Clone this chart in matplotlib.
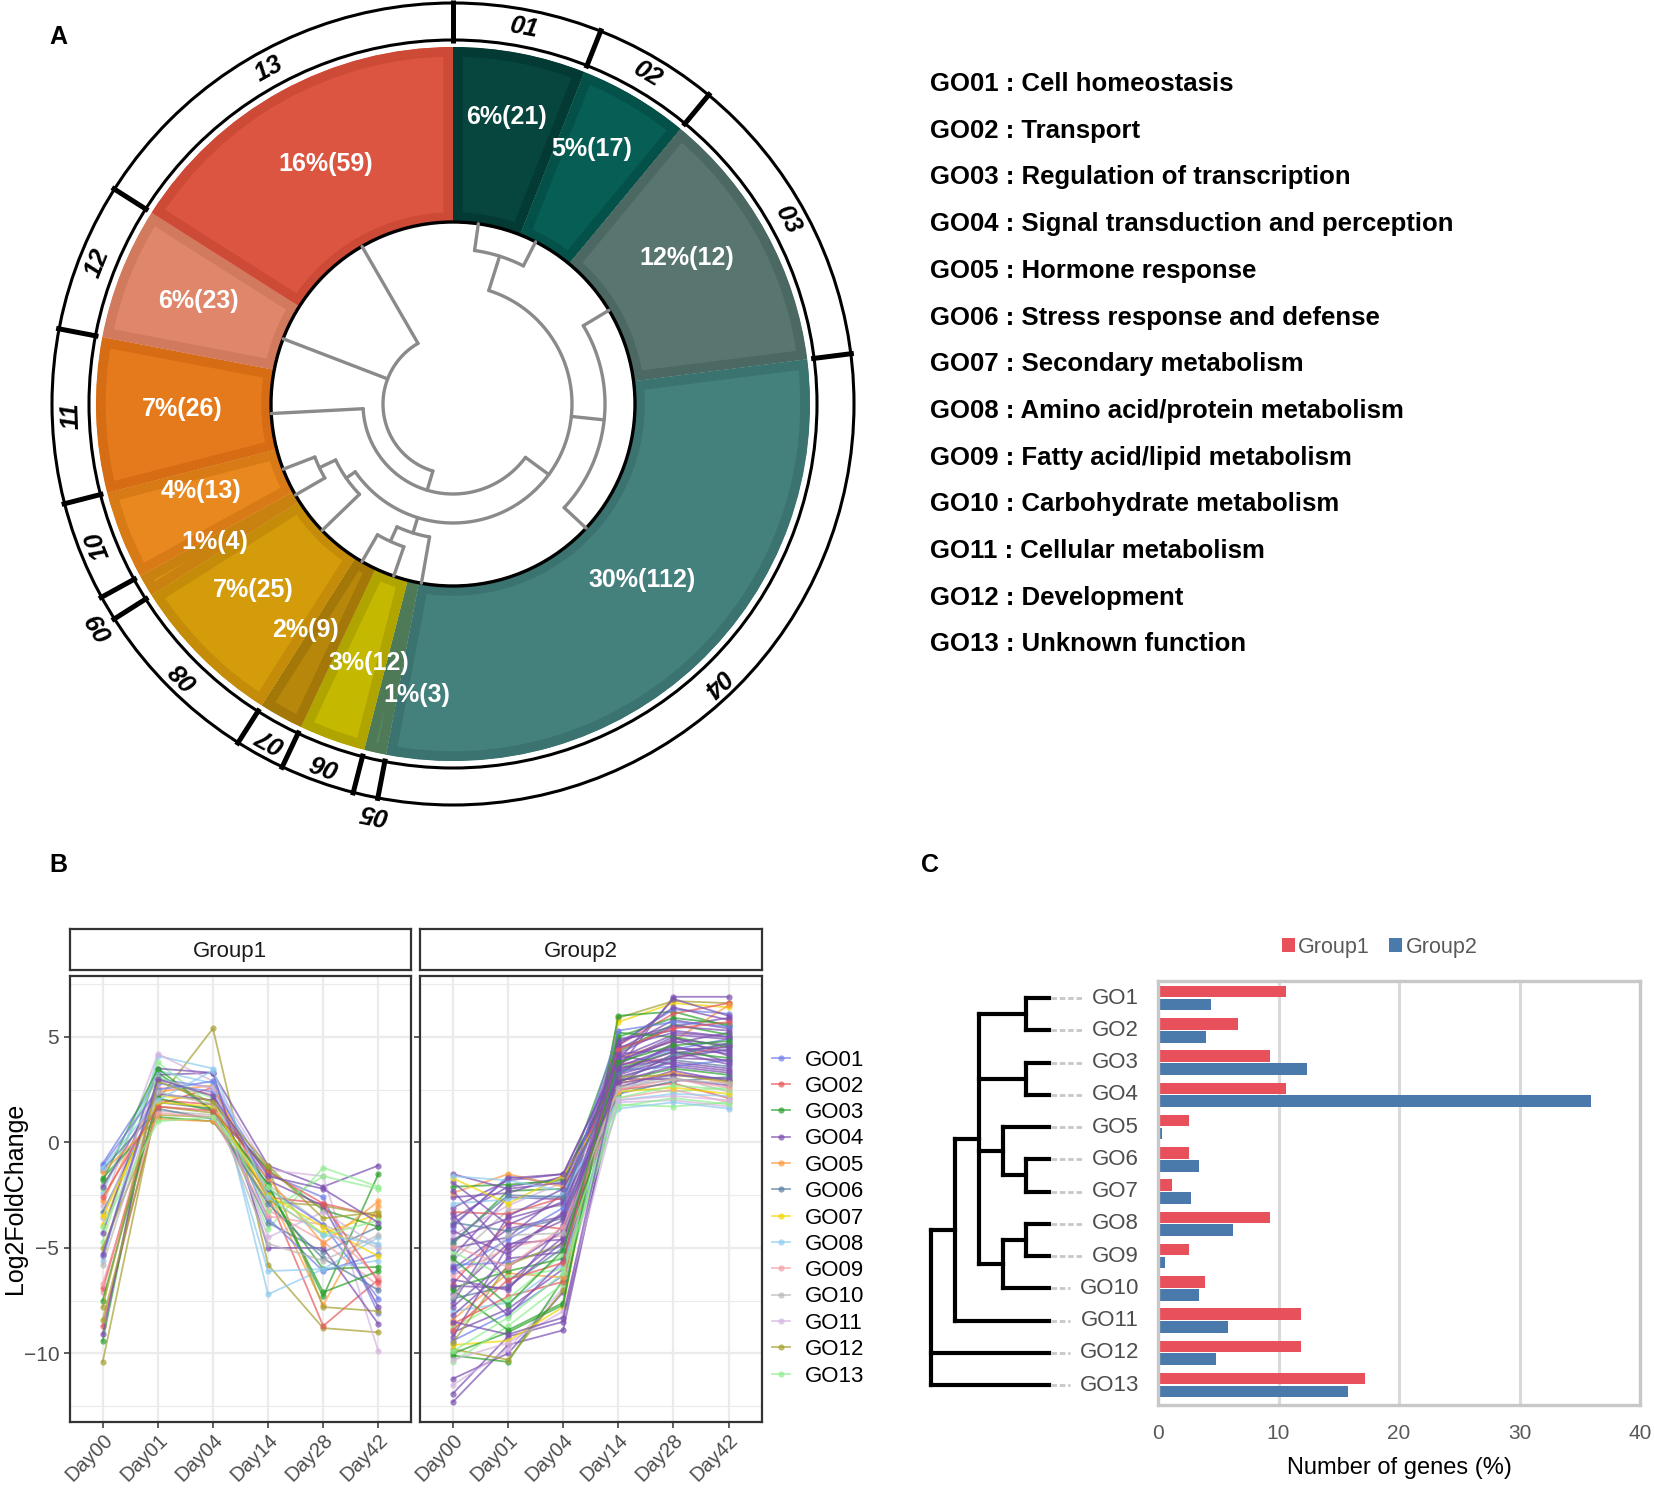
import numpy as np
import matplotlib
matplotlib.use("Agg")
import matplotlib.pyplot as plt
from matplotlib.patches import Wedge, Circle
from matplotlib.lines import Line2D

plt.rcParams['font.family'] = ['Liberation Sans', 'DejaVu Sans']

W, H = 1654, 1488

# ---- panel A data
go_ids = ["01", "02", "03", "04", "05", "06", "07", "08", "09", "10", "11", "12", "13"]
go_names = ["Cell homeostasis", "Transport", "Regulation of transcription",
            "Signal transduction and perception", "Hormone response",
            "Stress response and defense", "Secondary metabolism",
            "Amino acid/protein metabolism", "Fatty acid/lipid metabolism",
            "Carbohydrate metabolism", "Cellular metabolism", "Development",
            "Unknown function"]
go_pct = [6, 5, 12, 30, 1, 3, 2, 7, 1, 4, 7, 6, 16]
go_count = [21, 17, 12, 112, 3, 12, 9, 25, 4, 13, 26, 23, 59]
donut_colors = ["#06463e", "#065e55", "#58766f", "#44807c", "#5a8762", "#c4b800",
                "#b6870a", "#d49b0a", "#da8f16", "#e8881e", "#e57a1c", "#e0866a", "#dc5540"]
band_colors = ["#033a33", "#04514a", "#4c6863", "#3a7370", "#4f7a57", "#b0a500",
               "#a47808", "#c48c08", "#c98210", "#d87b17", "#d66d15", "#d27a5e", "#cd4a37"]

# ---- panel B data (go index, Day00, Day01, Day04, Day14, Day28, Day42)
days = ["Day00", "Day01", "Day04", "Day14", "Day28", "Day42"]
line_colors = ["#6f7fe8", "#e8585a", "#2ca02c", "#7b4fb0", "#ff9a3c", "#5a7fa0", "#f2d600",
               "#8ecbf0", "#f4a0a8", "#b8b8b8", "#d4b4e0", "#a6a030", "#90ee90"]
g1_rows = [
    (12, -10.4, 2.0, 5.4, -5.8, -8.8, -9.0), (2, -8.7, 1.8, 2.6, -2.5, -8.7, -6.5),
    (3, -9.4, 3.3, 1.5, -2.0, -7.3, -1.5), (4, -9.1, 3.2, 3.3, -1.1, -2.1, -1.1),
    (8, -5.6, 4.1, 3.5, -7.2, -6.0, -4.5), (11, -3.0, 4.2, 2.9, -1.3, -1.6, -9.9),
    (13, -4.7, 3.8, 1.7, -4.1, -1.2, -2.1), (1, -1.0, 3.0, 2.6, -1.5, -2.6, -8.1),
    (5, -2.8, 2.4, 2.7, -2.3, -7.7, -3.0), (6, -3.3, 1.9, 1.6, -3.8, -5.2, -4.0),
    (7, -3.9, 2.2, 2.0, -2.7, -4.3, -3.4), (9, -7.1, 2.6, 2.3, -3.2, -4.7, -6.8),
    (10, -2.0, 1.5, 1.3, -2.0, -3.9, -5.0), (12, -8.4, 1.7, 1.4, -1.2, -7.8, -8.0),
    (3, -1.7, 1.2, 1.0, -2.4, -6.0, -5.9), (4, -4.3, 3.5, 3.3, -5.0, -5.0, -8.6),
    (2, -6.9, 2.0, 1.8, -2.6, -2.9, -3.5), (1, -5.4, 2.8, 2.4, -3.6, -6.1, -5.3),
    (8, -2.4, 3.4, 2.8, -6.1, -6.0, -5.6), (3, -1.8, 3.5, 1.5, -1.3, -3.2, -4.0),
    (12, -5.0, 1.3, 1.2, -2.8, -3.0, -3.5), (13, -2.2, 3.1, 2.1, -3.3, -1.6, -2.2),
    (4, -2.1, 2.3, 2.0, -1.8, -3.0, -7.8), (6, -1.3, 1.6, 1.1, -2.9, -5.5, -7.0),
    (11, -3.6, 2.9, 2.6, -4.5, -3.3, -4.9), (5, -1.4, 1.1, 1.0, -1.7, -4.8, -2.8),
    (9, -6.7, 1.4, 1.2, -3.5, -3.9, -6.4), (1, -1.1, 2.5, 2.9, -2.2, -3.9, -7.4),
    (3, -7.5, 2.1, 1.5, -2.0, -7.1, -6.1), (7, -3.5, 1.9, 1.7, -2.5, -4.0, -5.4),
    (10, -5.8, 2.4, 1.8, -4.8, -5.6, -4.4), (2, -2.6, 1.7, 1.5, -1.4, -2.9, -6.6),
    (13, -4.0, 1.0, 1.2, -2.1, -4.4, -3.7), (8, -1.2, 2.0, 3.4, -2.6, -4.4, -4.8),
    (12, -7.8, 2.9, 1.9, -1.1, -3.6, -3.3), (4, -5.3, 3.0, 2.2, -1.6, -2.2, -3.8),
]
g2_rows = [
    (4, -12.3, -9.6, -8.9, 3.2, 4.7, 5.2), (4, -11.9, -9.2, -8.5, 2.8, 4.2, 4.7),
    (4, -11.2, -10.0, -7.1, 3.5, 6.9, 6.9), (11, -11.5, -9.8, -6.9, 2.4, 3.3, 3.0),
    (3, -10.1, -10.4, -6.5, 4.3, 5.6, 5.1), (12, -9.8, -10.3, -7.0, 5.9, 6.7, 6.6),
    (7, -9.6, -9.4, -7.8, 5.7, 6.6, 6.4), (3, -10.0, -9.0, -7.7, 6.0, 6.2, 5.5),
    (13, -10.4, -8.7, -6.7, 2.6, 2.4, 2.6), (1, -9.4, -8.1, -6.3, 4.7, 6.3, 6.1),
    (4, -9.0, -7.9, -6.0, 4.2, 5.5, 5.9), (2, -8.6, -7.3, -6.6, 4.6, 6.1, 6.6),
    (5, -8.4, -6.2, -6.4, 4.0, 4.8, 6.5), (8, -8.0, -7.6, -5.8, 2.2, 4.1, 4.4),
    (4, -7.8, -5.5, -5.2, 3.8, 5.0, 4.1), (6, -7.4, -6.8, -5.0, 3.0, 3.9, 3.6),
    (4, -7.2, -4.8, -4.6, 4.9, 5.3, 5.0), (3, -6.9, -6.1, -5.5, 2.9, 3.5, 3.2),
    (2, -6.7, -3.8, -4.1, 2.5, 2.8, 2.1), (4, -6.5, -7.0, -3.9, 3.3, 4.6, 3.8),
    (9, -6.3, -5.0, -4.4, 2.1, 2.5, 1.9), (4, -6.0, -4.1, -3.5, 4.4, 5.8, 5.4),
    (1, -5.8, -5.7, -4.9, 3.6, 4.4, 4.9), (10, -5.6, -3.2, -3.0, 2.7, 3.1, 2.4),
    (4, -5.4, -2.6, -2.7, 3.9, 4.8, 4.3), (13, -5.2, -6.4, -6.0, 1.8, 1.7, 1.9),
    (4, -5.0, -4.5, -2.4, 4.1, 3.7, 3.4), (3, -4.8, -2.3, -2.2, 5.0, 5.9, 5.6),
    (4, -4.6, -3.6, -2.9, 2.6, 3.4, 2.9), (11, -4.4, -3.0, -1.9, 1.9, 2.0, 1.7),
    (4, -4.2, -5.3, -3.3, 4.6, 6.4, 5.8), (1, -4.0, -1.6, -2.0, 3.4, 3.6, 3.9),
    (6, -3.8, -4.2, -3.6, 2.3, 2.9, 3.1), (4, -3.6, -2.1, -1.7, 3.0, 3.0, 2.7),
    (2, -3.3, -3.4, -2.6, 3.7, 4.0, 4.6), (4, -3.1, -1.8, -1.5, 4.0, 5.1, 4.9),
    (8, -2.9, -2.7, -2.5, 2.0, 2.3, 2.2), (4, -2.6, -2.4, -1.6, 3.1, 3.8, 3.5),
    (5, -2.4, -1.5, -2.1, 2.8, 3.3, 2.8), (3, -2.1, -2.0, -1.8, 3.5, 4.3, 4.0),
    (4, -1.9, -3.9, -2.8, 4.8, 5.5, 5.3), (7, -1.7, -2.9, -1.6, 2.4, 2.6, 2.3),
    (4, -1.5, -2.2, -1.9, 3.6, 4.5, 4.2), (8, -1.6, -1.8, -2.3, 1.6, 1.9, 1.6),
    (4, -8.2, -5.9, -4.2, 3.4, 4.3, 3.7), (3, -7.0, -8.9, -7.6, 5.2, 5.0, 4.5),
    (13, -8.8, -7.4, -5.3, 2.1, 2.7, 2.5), (4, -9.2, -4.9, -3.7, 3.7, 4.9, 4.6),
    (12, -9.5, -5.8, -4.8, 3.1, 3.2, 2.9), (4, -7.6, -3.5, -2.2, 2.9, 3.6, 3.3),
    (1, -6.1, -4.6, -3.1, 5.3, 5.7, 5.5), (4, -5.9, -8.2, -5.6, 4.5, 5.2, 5.0),
    (9, -4.9, -5.9, -4.0, 2.5, 3.0, 2.6), (4, -3.4, -6.6, -4.5, 3.2, 4.0, 3.9),
    (2, -8.9, -6.5, -5.7, 4.4, 5.4, 5.7), (4, -2.3, -5.1, -3.4, 2.8, 3.2, 3.0),
    (13, -9.9, -8.3, -6.2, 1.7, 2.1, 1.8), (6, -4.7, -2.5, -2.6, 3.3, 4.1, 4.7),
    (4, -6.8, -6.9, -4.7, 4.2, 4.4, 4.5), (11, -10.3, -9.5, -8.0, 2.0, 2.2, 2.0),
    (10, -7.3, -4.4, -4.3, 2.6, 3.0, 2.8), (4, -3.9, -1.7, -1.5, 3.9, 6.8, 6.0),
    (3, -5.5, -7.7, -5.1, 3.8, 4.6, 4.8), (4, -8.5, -9.1, -8.3, 3.5, 4.0, 4.4),
]

# ---- panel C data
c_labels = ["GO1", "GO2", "GO3", "GO4", "GO5", "GO6", "GO7", "GO8", "GO9", "GO10", "GO11", "GO12", "GO13"]
c_group1 = [10.6, 6.6, 9.3, 10.6, 2.6, 2.6, 1.2, 9.3, 2.6, 3.9, 11.9, 11.9, 17.2]
c_group2 = [4.4, 4.0, 12.4, 35.9, 0.3, 3.4, 2.7, 6.2, 0.6, 3.4, 5.8, 4.8, 15.8]


def frac(l, t, r, b):
    return [l / W, 1 - b / H, (r - l) / W, (b - t) / H]


fig = plt.figure(figsize=(W / 100, H / 100), dpi=100)

# overlay axes in pixel units (panel A, legend text, panel letters)
ax0 = fig.add_axes([0, 0, 1, 1])
ax0.set_xlim(0, W)
ax0.set_ylim(H, 0)
ax0.axis('off')

cx, cy = 453, 404
r_in, r_out = 182, 357
ring_in, ring_out = 364, 401

# where the percent labels sit (angle clockwise from top, radius)
label_polar = [(10.6, 292), (28.6, 290), (58, 276), (133, 258), (187, 293), (198, 272),
               (213, 270), (227, 273), (240, 275), (251, 266), (269, 271), (292, 275), (332, 272)]


def pol(r, phi):
    a = np.radians(phi)
    return cx + r * np.sin(a), cy - r * np.cos(a)


bounds = np.cumsum([0] + go_pct) * 3.6
for i in range(len(go_pct)):
    a1, a2 = bounds[i], bounds[i + 1]
    w = Wedge((cx, cy), r_out, a1 - 90, a2 - 90, width=r_out - r_in,
              facecolor=donut_colors[i], edgecolor=band_colors[i], linewidth=14)
    ax0.add_patch(w)
    w.set_clip_path(w)
    mid = (a1 + a2) / 2
    x, y = pol(label_polar[i][1], label_polar[i][0])
    ax0.text(x, y, f"{go_pct[i]}%({go_count[i]})", color='white', fontsize=18,
             fontweight='bold', ha='center', va='center', zorder=5)
    # ring label
    if go_pct[i] == 1:
        rl, ang = 417, mid - 1.5
    else:
        rl, ang = (ring_in + ring_out) / 2, mid
    x, y = pol(rl, ang)
    ax0.text(x, y, go_ids[i], fontsize=18.5, fontweight='bold', fontstyle='italic',
             ha='center', va='center', rotation=-ang, rotation_mode='anchor')

# outer ring
ax0.add_patch(Circle((cx, cy), ring_in, fill=False, lw=2.2, ec='black'))
ax0.add_patch(Circle((cx, cy), ring_out, fill=False, lw=2.2, ec='black'))
for b in bounds[:-1]:
    x1, y1 = pol(ring_in - 3, b)
    x2, y2 = pol(ring_out + 3, b)
    ax0.plot([x1, x2], [y1, y2], color='black', lw=3.6, solid_capstyle='butt')

# inner circle + circular dendrogram
ax0.add_patch(Circle((cx, cy), r_in, fc='white', ec='black', lw=2.4, zorder=3))

tree_a = (70, [(90, [(119, [(155, [8, 27]), (152, [59, 133]),
                            (135, [(151, [210, 199]), 190]),
                            (130, [(148, [249, 240]), 226])]), 267]), 291, 330])


def draw_node(node):
    if not isinstance(node, tuple):
        return node, r_in
    rad, kids = node
    res = [draw_node(k) for k in kids]
    angs = [a for a, _ in res]
    t = np.linspace(min(angs), max(angs), 80)
    xs, ys = pol(rad, t)
    ax0.plot(xs, ys, color='#8a8a8a', lw=2.4, zorder=4, solid_capstyle='round')
    for a, rr in res:
        x1, y1 = pol(rad, a)
        x2, y2 = pol(rr, a)
        ax0.plot([x1, x2], [y1, y2], color='#8a8a8a', lw=2.4, zorder=4, solid_capstyle='round')
    return (min(angs) + max(angs)) / 2, rad


draw_node(tree_a)

# legend text of panel A
for i, name in enumerate(go_names):
    ax0.text(930, 84 + 46.7 * i, f"GO{go_ids[i]} : {name}", fontsize=18.5,
             fontweight='bold', ha='left', va='center')

for lab, (x, y) in zip("ABC", [(58, 37), (58, 865), (930, 865)]):
    ax0.text(x, y, lab, fontsize=18, fontweight='bold', ha='center', va='center')

# ---- panel B
xs = np.arange(len(days))
for k, (rows, title, left, right) in enumerate([(g1_rows, "Group1", 69.6, 411.4),
                                                 (g2_rows, "Group2", 419.8, 761.6)]):
    ax = fig.add_axes(frac(left, 975.7, right, 1422))
    for yv in np.arange(-12.5, 8, 2.5):
        major = abs(yv % 5) < 1e-9
        ax.axhline(yv, color='#ebebeb', lw=1.6 if major else 0.8, zorder=0)
    for xv in xs:
        ax.axvline(xv, color='#ebebeb', lw=1.6, zorder=0)
    for row in rows:
        ax.plot(xs, row[1:], color=line_colors[row[0] - 1], alpha=0.7, lw=1.3,
                marker='o', ms=4.5, mew=0)
    ax.set_xlim(-0.6, 5.6)
    ax.set_ylim(-13.25, 7.9)
    ax.set_xticks(xs)
    ax.set_xticklabels(days, rotation=45, ha='right', va='top', rotation_mode='anchor',
                       fontsize=14.5, color='#4d4d4d')
    ax.set_yticks([5, 0, -5, -10])
    if k == 0:
        ax.set_yticklabels(["5", "0", "\u22125", "\u221210"], fontsize=15, color='#4d4d4d')
        ax.set_ylabel("Log2FoldChange", fontsize=18)
        ax.yaxis.set_label_coords(-0.125, 0.5)
    else:
        ax.set_yticklabels([])
        ax.tick_params(axis='y', length=0)
    ax.tick_params(colors='#333333', width=1.1, length=4, labelcolor='#4d4d4d')
    ax.tick_params(axis='x', pad=2)
    for s in ax.spines.values():
        s.set_color('#333333')
        s.set_linewidth(1.6)
    st = fig.add_axes(frac(left, 929, right, 970))
    st.set_xticks([])
    st.set_yticks([])
    for s in st.spines.values():
        s.set_color('#333333')
        s.set_linewidth(1.6)
    st.text(0.47, 0.45, title, ha='center', va='center', fontsize=16, color='#1a1a1a',
            transform=st.transAxes)

handles = [Line2D([], [], color=c, marker='o', ms=4.5, mew=0, lw=1.3, alpha=0.7)
           for c in line_colors]
fig.legend(handles, ["GO" + g for g in go_ids], loc='center left',
           bbox_to_anchor=(772 / W, 1 - 1218 / H), frameon=False, fontsize=16,
           handlelength=0.8, handletextpad=0.7, labelspacing=0.24, borderpad=0,
           borderaxespad=0)

# ---- panel C
ypos = np.arange(len(c_labels))
axc = fig.add_axes(frac(1158, 981, 1640, 1405))
axc.barh(ypos - 0.2, c_group1, height=0.36, color='#e8505b', label='Group1', zorder=2)
axc.barh(ypos + 0.2, c_group2, height=0.36, color='#4a7aab', label='Group2', zorder=2)
axc.set_xlim(0, 40)
axc.set_ylim(12.62, -0.53)
axc.set_xticks([0, 10, 20, 30, 40])
axc.set_yticks([])
axc.grid(axis='x', color='#d9d9d9', lw=2.2, zorder=0)
axc.tick_params(axis='x', length=0, pad=14, labelsize=15, labelcolor='#595959')
for s in axc.spines.values():
    s.set_color('#c8c8c8')
    s.set_linewidth(2.4)
axc.set_xlabel("Number of genes (%)", fontsize=17, labelpad=10)
axc.legend(loc='lower center', bbox_to_anchor=(0.46, 1.03), ncol=2, frameon=False,
           fontsize=15.5, handlelength=0.6, handleheight=0.6, handletextpad=0.15,
           columnspacing=0.9, labelcolor='#595959', borderpad=0)

# dendrogram of panel C
axd = fig.add_axes(frac(920, 981, 1158, 1405))
axd.set_xlim(920, 1158)
axd.set_ylim(12.62, -0.53)
axd.axis('off')

tree_c = (931, [(955, [(979, [(1026, [0, 1]), (1026, [2, 3]),
                              (1003, [4, (1026, [5, 6])]),
                              (1003, [(1026, [7, 8]), 9])]), 10]), 11, 12])
leaf_x = 1049


def draw_c(node):
    if not isinstance(node, tuple):
        return float(node), leaf_x
    xn, kids = node
    res = [draw_c(k) for k in kids]
    ys = [y for y, _ in res]
    axd.plot([xn, xn], [min(ys), max(ys)], color='black', lw=3, solid_capstyle='projecting')
    for y, xc in res:
        axd.plot([xn, xc], [y, y], color='black', lw=3, solid_capstyle='projecting')
    return (min(ys) + max(ys)) / 2, xn


draw_c(tree_c)
for i, lab in enumerate(c_labels):
    end = 1082 if len(lab) == 3 else 1070
    axd.plot([leaf_x + 2, end], [i, i], color='#c8c8c8', lw=2, ls=(0, (2, 1)))
    axd.text(1139, i, lab, ha='right', va='center', fontsize=16, color='#4d4d4d')

fig.savefig("out.png", dpi=100)
